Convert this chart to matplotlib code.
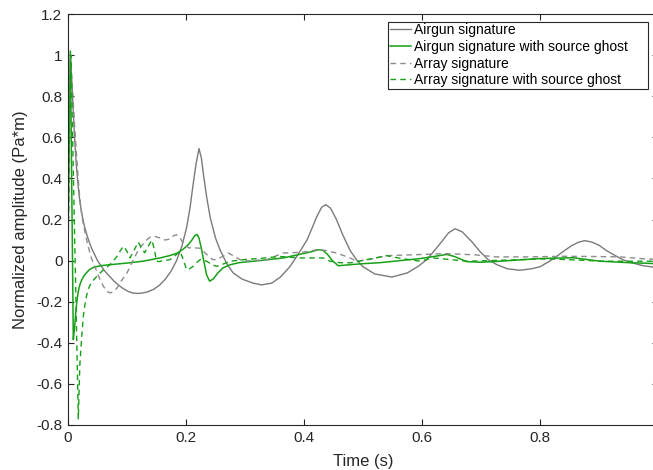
import matplotlib
matplotlib.use("Agg")
import matplotlib.pyplot as plt
from matplotlib.patches import Rectangle

# ---- data ----
t_airgun = [0, 0.002, 0.004, 0.006, 0.008, 0.010, 0.012, 0.014, 0.016, 0.018, 0.02, 0.023, 0.026,
            0.029, 0.032, 0.036, 0.04, 0.045, 0.05, 0.056, 0.062, 0.07, 0.078, 0.086, 0.094, 0.102,
            0.11, 0.118, 0.126, 0.135, 0.145, 0.155, 0.165, 0.175, 0.184, 0.193, 0.201, 0.207,
            0.212, 0.217, 0.222, 0.226, 0.23, 0.235, 0.241, 0.25, 0.258, 0.27, 0.28, 0.295, 0.314,
            0.328, 0.345, 0.36, 0.376, 0.39, 0.405, 0.414, 0.421, 0.43, 0.437, 0.445, 0.455, 0.465,
            0.478, 0.49, 0.5, 0.52, 0.549, 0.575, 0.595, 0.608, 0.62, 0.63, 0.645, 0.656, 0.668,
            0.685, 0.698, 0.712, 0.727, 0.745, 0.766, 0.785, 0.8, 0.815, 0.828, 0.842, 0.855, 0.866,
            0.876, 0.888, 0.9, 0.912, 0.924, 0.94, 0.955, 0.975, 1.0]
y_airgun = [0, 0.6, 0.98, 0.9, 0.78, 0.66, 0.56, 0.47, 0.4, 0.34, 0.29, 0.235, 0.19,
            0.155, 0.125, 0.09, 0.06, 0.03, 0.0, -0.025, -0.05, -0.075, -0.1, -0.12, -0.137, -0.15,
            -0.158, -0.16, -0.158, -0.152, -0.14, -0.12, -0.09, -0.05, 0.0, 0.07, 0.16, 0.26,
            0.37, 0.47, 0.545, 0.5, 0.41, 0.31, 0.21, 0.11, 0.05, -0.02, -0.06, -0.09, -0.11,
            -0.118, -0.11, -0.08, -0.03, 0.03, 0.1, 0.16, 0.21, 0.26, 0.272, 0.255, 0.2, 0.13,
            0.05, -0.0, -0.03, -0.065, -0.08, -0.06, -0.025, 0.005, 0.045, 0.08, 0.135, 0.155, 0.14,
            0.09, 0.045, 0.005, -0.02, -0.04, -0.047, -0.04, -0.03, -0.005, 0.02, 0.05, 0.075, 0.09,
            0.097, 0.09, 0.075, 0.05, 0.03, 0.005, -0.01, -0.025, -0.035]

t_airgun_ghost = [0, 0.001, 0.004, 0.009, 0.011, 0.013, 0.015, 0.017, 0.019, 0.021, 0.024, 0.027,
                  0.031, 0.036, 0.043, 0.055, 0.071, 0.1, 0.127, 0.156, 0.172, 0.184, 0.195, 0.204,
                  0.21, 0.215, 0.219, 0.222, 0.226, 0.23, 0.235, 0.24, 0.246, 0.254, 0.263, 0.275,
                  0.29, 0.325, 0.365, 0.4, 0.415, 0.424, 0.432, 0.44, 0.448, 0.458, 0.478, 0.5, 0.529,
                  0.563, 0.597, 0.62, 0.642, 0.655, 0.676, 0.7, 0.732, 0.8, 0.856, 0.902, 0.95, 1.0]
y_airgun_ghost = [0, 0.5, 1.02, -0.385, -0.33, -0.26, -0.2, -0.157, -0.13, -0.11, -0.09, -0.075,
                  -0.06, -0.045, -0.033, -0.025, -0.02, -0.012, -0.003, 0.013, 0.024, 0.035, 0.055,
                  0.078, 0.1, 0.122, 0.127, 0.11, 0.06, 0.0, -0.07, -0.1, -0.09, -0.06, -0.035,
                  -0.02, -0.01, 0.0, 0.013, 0.035, 0.045, 0.053, 0.05, 0.03, 0.0, -0.025, -0.02,
                  -0.015, -0.01, 0.0, 0.01, 0.02, 0.03, 0.02, -0.005, -0.008, -0.003, 0.01, 0.014,
                  -0.003, -0.01, -0.015]

t_array = [0, 0.002, 0.004, 0.007, 0.01, 0.0125, 0.015, 0.0175, 0.02, 0.024, 0.029, 0.034, 0.04,
           0.047, 0.054, 0.06, 0.066, 0.072, 0.078, 0.084, 0.09, 0.095, 0.1, 0.105, 0.111, 0.118,
           0.124, 0.13, 0.135, 0.14, 0.147, 0.156, 0.165, 0.172, 0.178, 0.184, 0.19, 0.197, 0.205,
           0.215, 0.224, 0.235, 0.245, 0.252, 0.262, 0.272, 0.285, 0.297, 0.315, 0.337, 0.35,
           0.365, 0.393, 0.41, 0.421, 0.435, 0.455, 0.478, 0.489, 0.51, 0.54, 0.58, 0.642, 0.69,
           0.727, 0.78, 0.839, 0.89, 0.936, 0.97, 1.0]
y_array = [0, 0.55, 1.0, 0.86, 0.72, 0.6, 0.49, 0.39, 0.3, 0.21, 0.135, 0.07, 0.01,
           -0.04, -0.09, -0.125, -0.15, -0.157, -0.15, -0.13, -0.1, -0.08, -0.06, -0.03, 0.005,
           0.045, 0.07, 0.09, 0.105, 0.115, 0.118, 0.11, 0.1, 0.105, 0.12, 0.126, 0.11, 0.075,
           0.062, 0.062, 0.06, 0.03, 0.005, 0.005, 0.02, 0.037, 0.015, -0.003, -0.0, 0.005, 0.02,
           0.037, 0.04, 0.045, 0.053, 0.05, 0.037, 0.013, -0.003, 0.005, 0.024, 0.028, 0.034, 0.028,
           0.018, 0.018, 0.021, 0.02, 0.018, 0.01, 0.005]

t_array_ghost = [0, 0.002, 0.005, 0.0175, 0.02, 0.023, 0.026, 0.03, 0.034, 0.04, 0.049, 0.06,
                 0.071, 0.077, 0.083, 0.088, 0.094, 0.1, 0.105, 0.112, 0.119, 0.124, 0.13, 0.136,
                 0.142, 0.146, 0.15, 0.155, 0.16, 0.167, 0.173, 0.182, 0.19, 0.196, 0.201, 0.206,
                 0.212, 0.218, 0.224, 0.235, 0.244, 0.252, 0.262, 0.275, 0.3, 0.33, 0.359, 0.393,
                 0.41, 0.432, 0.444, 0.46, 0.478, 0.495, 0.512, 0.54, 0.565, 0.597, 0.619, 0.645,
                 0.676, 0.74, 0.8, 0.822, 0.86, 0.907, 0.95, 1.0]
y_array_ghost = [0, 0.5, 1.0, -0.77, -0.51, -0.38, -0.27, -0.19, -0.14, -0.105, -0.076, -0.045,
                 -0.02, 0.0, 0.02, 0.045, 0.07, 0.045, 0.013, 0.05, 0.09, 0.065, 0.038, 0.07,
                 0.1, 0.06, -0.003, -0.005, 0.0, 0.002, 0.005, 0.025, 0.045, 0.0, -0.044, -0.04,
                 -0.028, -0.01, 0.005, -0.003, -0.02, -0.028, -0.018, -0.003, 0.005, 0.012, 0.02, 0.013,
                 0.013, 0.013, -0.003, -0.01, -0.011, -0.002, 0.008, 0.024, 0.01, -0.003, 0.013, 0.006,
                 -0.003, 0.002, 0.008, 0.008, 0.003, -0.003, -0.003, -0.003]

labels = ["Airgun signature", "Airgun signature with source ghost",
          "Array signature", "Array signature with source ghost"]
xticks = [0, 0.2, 0.4, 0.6, 0.8]
xticklabels = ["0", "0.2", "0.4", "0.6", "0.8"]
yticks = [-0.8, -0.6, -0.4, -0.2, 0, 0.2, 0.4, 0.6, 0.8, 1, 1.2]
yticklabels = ["-0.8", "-0.6", "-0.4", "-0.2", "0", "0.2", "0.4", "0.6", "0.8", "1", "1.2"]

plt.rcParams['font.family'] = ['Liberation Sans', 'DejaVu Sans']

W, H = 653, 470
fig = plt.figure(figsize=(W / 100, H / 100), dpi=100)
# the right spine of the original lies just outside the picture
ax = fig.add_axes([68 / W, 45 / H, 590 / W, 411 / H])

gray = '#7a7a7a'
gray_d = '#8c8c8c'
green = '#16a016'
ax.plot(t_airgun, y_airgun, color=gray, lw=1.0, label=labels[0])
ax.plot(t_airgun_ghost, y_airgun_ghost, color=green, lw=1.1, label=labels[1])
ax.plot(t_array, y_array, color=gray_d, lw=1.0, ls=(0, (4, 3)), label=labels[2])
ax.plot(t_array_ghost, y_array_ghost, color=green, lw=1.0, ls=(0, (4, 3)), label=labels[3])

ax.set_xlim(0, 1.0)
ax.set_ylim(-0.8, 1.2)
ax.set_xticks(xticks)
ax.set_xticklabels(xticklabels)
ax.set_yticks(yticks)
ax.set_yticklabels(yticklabels)
ax.tick_params(direction='in', top=True, right=True, length=4, width=0.8,
               labelsize=11, colors='#262626', pad=4)
for s in ax.spines.values():
    s.set_color('#262626')
    s.set_linewidth(0.8)
ax.set_xlabel("Time (s)", fontsize=12, color='#262626', labelpad=7)
ax.set_ylabel("Normalized amplitude (Pa*m)", fontsize=12, color='#262626', labelpad=6)

# MATLAB-like legend box (drawn in the axes, below the legend entries)
box = Rectangle((388 / W, 1 - 89 / H), (648 - 388) / W, (89 - 22) / H,
                transform=fig.transFigure, facecolor='white', edgecolor='#262626',
                lw=0.8, zorder=4, clip_on=False)
ax.add_patch(box)
leg = ax.legend(loc='upper left', fontsize=10, frameon=False,
                handlelength=1.5, handletextpad=0.2, borderpad=0.0,
                labelspacing=0.2, bbox_to_anchor=(390 / W, 1 - 23 / H),
                bbox_transform=fig.transFigure, borderaxespad=0.0)
leg.set_zorder(6)

fig.savefig("out.png", dpi=100)
